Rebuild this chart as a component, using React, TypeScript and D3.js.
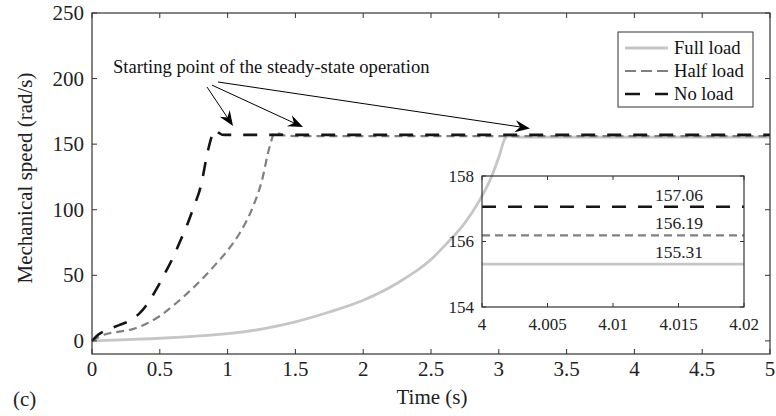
import React from "react";
import * as d3 from "d3";

const W = 776;
const H = 416;

// Data: [time (s), speed (rad/s)]
const fullLoad: [number, number][] = [
  [0, 0], [0.25, 1], [0.5, 2], [0.75, 3.5], [1.0, 5.5], [1.25, 9], [1.5, 14.5], [1.75, 22],
  [2.0, 31], [2.25, 44], [2.5, 62], [2.62, 74.7], [2.75, 90], [2.86, 107.5],
  [2.95, 126], [3.0, 140], [3.05, 155], [3.08, 156.3], [3.12, 155.7],
  [3.2, 155.31], [5, 155.31],
];
const halfLoad: [number, number][] = [
  [0, 0], [0.1, 5], [0.2, 7], [0.3, 9], [0.4, 13], [0.5, 19], [0.6, 27], [0.7, 36],
  [0.8, 46], [0.9, 57], [1.0, 69], [1.1, 84], [1.19, 103], [1.25, 121], [1.31, 148],
  [1.35, 159], [1.38, 158], [1.42, 156.6], [1.5, 156.19], [5, 156.19],
];
const noLoad: [number, number][] = [
  [0, 0], [0.05, 5], [0.1, 8], [0.15, 10], [0.2, 12], [0.25, 14], [0.3, 17], [0.35, 21],
  [0.4, 27], [0.45, 35], [0.5, 44], [0.55, 54], [0.6, 64], [0.65, 76], [0.7, 88],
  [0.75, 102], [0.8, 117], [0.855, 145], [0.88, 155], [0.905, 161], [0.93, 159],
  [0.96, 157.2], [1.0, 157.06], [5, 157.06],
];

const steadyValues = [155.31, 156.19, 157.06];
const seriesNames = ["Full load", "Half load", "No load"];

const xTicks = [0, 0.5, 1, 1.5, 2, 2.5, 3, 3.5, 4, 4.5, 5];
const yTicks = [0, 50, 100, 150, 200, 250];
const insetXTicks = [4, 4.005, 4.01, 4.015, 4.02];
const insetYTicks = [154, 156, 158];

// annotation arrows: [t0, v0, t1, v1]
const arrows: [number, number, number, number][] = [
  [0.848, 193.6, 1.04, 163.9],
  [0.885, 195, 1.556, 163],
  [0.929, 197.4, 3.23, 162],
];
const annotationText = "Starting point of the steady-state operation";

const FONT = '"Liberation Serif", "Times New Roman", Times, "DejaVu Serif", serif';
const AX = "#333";
const TS: React.CSSProperties = { fontFamily: FONT };

const styles = [
  { color: "#c6c6c6", width: 2.8, dash: "none", legendDash: "none" },
  { color: "#808080", width: 2.2, dash: "8,5", legendDash: "11,5" },
  { color: "#151515", width: 2.6, dash: "14,12", legendDash: "15,15" },
];

function Arrow({ x0, y0, x1, y1 }: { x0: number; y0: number; x1: number; y1: number }) {
  const ang = Math.atan2(y1 - y0, x1 - x0);
  const L = 15;
  const Wd = 6;
  const back = 10;
  const ca = Math.cos(ang), sa = Math.sin(ang);
  const pt = (a: number, b: number) => [x1 - a * ca - b * -sa, y1 - a * sa - b * ca];
  const p1 = pt(L, Wd);
  const p2 = pt(back, 0);
  const p3 = pt(L, -Wd);
  const endX = x1 - back * ca;
  const endY = y1 - back * sa;
  return (
    <g>
      <line x1={x0} y1={y0} x2={endX} y2={endY} stroke="#000" strokeWidth={1} />
      <path d={`M${x1},${y1}L${p1[0]},${p1[1]}L${p2[0]},${p2[1]}L${p3[0]},${p3[1]}Z`} fill="#000" />
    </g>
  );
}

export default function App() {
  const x = d3.scaleLinear().domain([0, 5]).range([92, 770]);
  const y = d3.scaleLinear().domain([-10, 250]).range([354, 13]);
  const ix = d3.scaleLinear().domain([4, 4.02]).range([482, 744]);
  const iy = d3.scaleLinear().domain([154, 158]).range([307, 176]);

  const line = d3
    .line<[number, number]>()
    .x((d) => x(d[0]))
    .y((d) => y(d[1]))
    .curve(d3.curveMonotoneX);

  const series = [fullLoad, halfLoad, noLoad];
  const [x0, x1] = x.range();
  const [y0, y1] = y.range();
  const [ix0, ix1] = ix.range();
  const [iy0, iy1] = iy.range();
  const tl = 5;

  return (
    <svg width={W} height={H} style={{ position: "absolute", left: 0, top: 0, background: "#fff", fontFamily: FONT }}>
      <rect width={W} height={H} fill="#fff" />
      {/* series */}
      <g fill="none">
        {series.map((s, i) => (
          <path key={i} d={line(s) || ""} stroke={styles[i].color} strokeWidth={styles[i].width}
            strokeDasharray={styles[i].dash} />
        ))}
      </g>
      {/* axes box */}
      <rect x={x0} y={y1} width={x1 - x0} height={y0 - y1} fill="none" stroke={AX} strokeWidth={1.2} />
      {xTicks.map((t) => (
        <g key={"xt" + t}>
          <line x1={x(t)} x2={x(t)} y1={y0} y2={y0 - tl} stroke={AX} />
          <line x1={x(t)} x2={x(t)} y1={y1} y2={y1 + tl} stroke={AX} />
          <text style={TS} x={x(t)} y={376} textAnchor="middle" fontSize={21} fill="#222">{t}</text>
        </g>
      ))}
      {yTicks.map((t) => (
        <g key={"yt" + t}>
          <line x1={x0} x2={x0 + tl} y1={y(t)} y2={y(t)} stroke={AX} />
          <line x1={x1} x2={x1 - tl} y1={y(t)} y2={y(t)} stroke={AX} />
          <text style={TS} x={84} y={y(t)} dy="0.34em" textAnchor="end" fontSize={21} fill="#222">{t}</text>
        </g>
      ))}
      <text style={TS} x={432} y={404} textAnchor="middle" fontSize={21} fill="#222">Time (s)</text>
      <text style={TS} transform={`translate(32,178) rotate(-90)`} textAnchor="middle" fontSize={21} fill="#222">
        Mechanical speed (rad/s)
      </text>
      <text style={TS} x={13} y={406} fontSize={21} fill="#222">(c)</text>

      {/* annotation */}
      <text style={TS} x={113} y={73} fontSize={18.6} fill="#111">{annotationText}</text>
      {arrows.map((a, i) => (
        <Arrow key={i} x0={x(a[0])} y0={y(a[1])} x1={x(a[2])} y1={y(a[3])} />
      ))}

      {/* legend */}
      <g>
        <rect x={618} y={32} width={135} height={75} fill="#fff" stroke={AX} strokeWidth={1} />
        {seriesNames.map((n, i) => {
          const ly = 48 + i * 23;
          return (
            <g key={n}>
              <line x1={625} x2={668} y1={ly} y2={ly} stroke={styles[i].color} strokeWidth={styles[i].width}
                strokeDasharray={styles[i].legendDash} />
              <text style={TS} x={674} y={ly} dy="0.34em" fontSize={18.6} fill="#111">{n}</text>
            </g>
          );
        })}
      </g>

      {/* inset */}
      <g>
        {steadyValues.map((v, i) => (
          <g key={"iv" + i}>
            <line x1={ix0} x2={ix1} y1={iy(v)} y2={iy(v)} stroke={styles[i].color} strokeWidth={styles[i].width}
              strokeDasharray={styles[i].dash} />
            <text style={TS} x={679} y={iy(v) - 6} textAnchor="middle" fontSize={17.5} fill="#222">{v.toFixed(2)}</text>
          </g>
        ))}
        <rect x={ix0} y={iy1} width={ix1 - ix0} height={iy0 - iy1} fill="none" stroke={AX} strokeWidth={1.2} />
        {insetXTicks.map((t) => (
          <g key={"ixt" + t}>
            <line x1={ix(t)} x2={ix(t)} y1={iy0} y2={iy0 - 4} stroke={AX} />
            <line x1={ix(t)} x2={ix(t)} y1={iy1} y2={iy1 + 4} stroke={AX} />
            <text style={TS} x={ix(t)} y={330} textAnchor="middle" fontSize={17} fill="#222">{t}</text>
          </g>
        ))}
        {insetYTicks.map((t) => (
          <g key={"iyt" + t}>
            <line x1={ix0} x2={ix0 + 4} y1={iy(t)} y2={iy(t)} stroke={AX} />
            <line x1={ix1} x2={ix1 - 4} y1={iy(t)} y2={iy(t)} stroke={AX} />
            <text style={TS} x={474} y={iy(t)} dy="0.34em" textAnchor="end" fontSize={17} fill="#222">{t}</text>
          </g>
        ))}
      </g>
    </svg>
  );
}
